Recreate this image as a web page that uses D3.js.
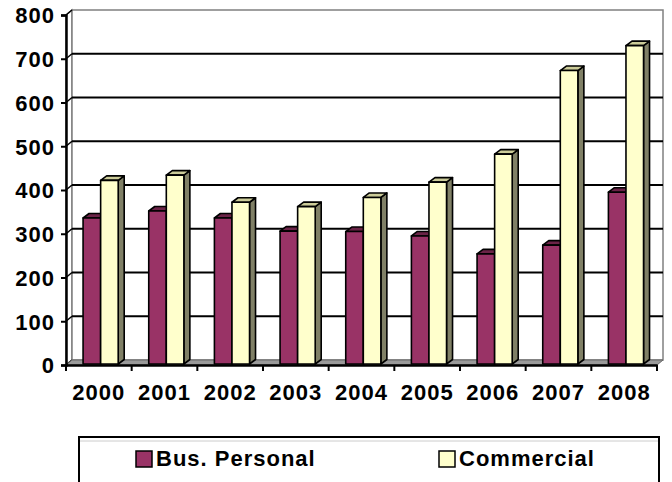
<!DOCTYPE html>
<meta charset="utf-8">
<style>
  body { margin: 0; background: #fff; }
  svg text {
    font-family: "Liberation Sans", Arial, sans-serif;
    font-weight: bold;
    font-size: 22px;
    letter-spacing: 1px;
    fill: #000;
  }
</style>
<body>
<svg width="672" height="482"></svg>
<script src="https://d3js.org/d3.v7.min.js"></script>
<script>
  // data
  var years = ["2000", "2001", "2002", "2003", "2004", "2005", "2006", "2007", "2008"];
  var busPersonal = [336, 352, 336, 306, 305, 295, 254, 274, 395];
  var commercial = [422, 434, 372, 362, 383, 418, 482, 673, 730];
  var seriesNames = ["Bus. Personal", "Commercial"];
  var yTicks = [0, 100, 200, 300, 400, 500, 600, 700, 800];

  var front = ["#993366", "#ffffcc"];
  var topCol = ["#6b2347", "#cccc99"];
  var sideCol = ["#4d1a33", "#808066"];

  var svg = d3.select("svg");

  var x = d3.scaleBand().domain(years).range([66, 657]);
  var y = d3.scaleLinear().domain([0, 800]).range([365, 15]);
  var inner = d3.scaleBand().domain([0, 1])
    .range([x.bandwidth() * 0.26, x.bandwidth() * 0.795]);

  // wall offset (depth of the 3d box)
  var wdx = 6, wdy = -5;
  // bar depth
  var bdx = 6, bdy = -4.5;

  var x0 = x.range()[0], x1 = x.range()[1];

  /* side wall */
  svg.append("path")
    .attr("d", d3.line()([[x0, y(0)], [x0, y(800)], [x0 + wdx, y(800) + wdy], [x0 + wdx, y(0) + wdy]]) + "Z")
    .attr("fill", "#fff").attr("stroke", "#808080").attr("stroke-width", 1.5);

  /* back wall */
  svg.append("rect")
    .attr("x", x0 + wdx).attr("y", y(800) + wdy)
    .attr("width", x1 - x0).attr("height", y(0) - y(800))
    .attr("fill", "#fff").attr("stroke", "#808080").attr("stroke-width", 1.5);

  /* gridlines */
  var grid = svg.append("g");
  yTicks.filter(function(d) { return d > 0 && d < 800; }).forEach(function(v) {
    grid.append("line")
      .attr("x1", x0 + wdx).attr("x2", x1 + wdx)
      .attr("y1", y(v) + wdy).attr("y2", y(v) + wdy)
      .attr("stroke", "#000").attr("stroke-width", 2);
  });
  yTicks.forEach(function(v) {
    grid.append("line")
      .attr("x1", x0).attr("x2", x0 + wdx)
      .attr("y1", y(v)).attr("y2", y(v) + wdy)
      .attr("stroke", "#000").attr("stroke-width", 1.5);
  });

  /* floor */
  svg.append("path")
    .attr("d", d3.line()([[x0, y(0)], [x1, y(0)], [x1 + wdx, y(0) + wdy], [x0 + wdx, y(0) + wdy]]) + "Z")
    .attr("fill", "#9a9a9a").attr("stroke", "#666").attr("stroke-width", 1);

  /* bars */
  var bars = svg.append("g");
  years.forEach(function(yr, i) {
    [busPersonal[i], commercial[i]].forEach(function(v, s) {
      var bx = x(yr) + inner(s), bw = inner.bandwidth();
      var top = y(v), bot = y(0) - 1;
      var g = bars.append("g")
        .attr("stroke", "#000").attr("stroke-width", 1.6).attr("stroke-linejoin", "round");
      g.append("path")
        .attr("d", d3.line()([[bx + bw, top], [bx + bw + bdx, top + bdy], [bx + bw + bdx, bot + bdy], [bx + bw, bot]]) + "Z")
        .attr("fill", sideCol[s]);
      g.append("path")
        .attr("d", d3.line()([[bx, top], [bx + bdx, top + bdy], [bx + bw + bdx, top + bdy], [bx + bw, top]]) + "Z")
        .attr("fill", topCol[s]);
      g.append("rect")
        .attr("x", bx).attr("y", top)
        .attr("width", bw).attr("height", bot - top)
        .attr("fill", front[s]);
    });
  });

  /* y axis */
  var yAxis = svg.append("g")
    .attr("transform", "translate(" + x0 + ",0)")
    .call(d3.axisLeft(y).tickValues(yTicks).tickSize(5).tickPadding(6));
  yAxis.select(".domain").attr("stroke", "#000").attr("stroke-width", 2.5);
  yAxis.selectAll(".tick line").attr("stroke", "#000").attr("stroke-width", 2);
  yAxis.selectAll("text").attr("font-size", null).attr("font-family", null)
    .attr("dy", "0.36em");

  /* x axis */
  var xAxis = svg.append("g")
    .attr("transform", "translate(0," + y(0) + ")")
    .call(d3.axisBottom(x).tickSize(0).tickPadding(35));
  xAxis.select(".domain").attr("stroke", "#000").attr("stroke-width", 2.5);
  xAxis.selectAll("text").attr("font-size", null).attr("font-family", null).attr("dy", "0");
  // category boundary ticks
  years.concat(["end"]).forEach(function(yr, i) {
    var tx = i < years.length ? x(yr) : x1;
    xAxis.append("line")
      .attr("x1", tx).attr("x2", tx).attr("y1", 0).attr("y2", 6)
      .attr("stroke", "#000").attr("stroke-width", 2);
  });

  /* legend */
  var legend = svg.append("g");
  legend.append("rect")
    .attr("x", 79).attr("y", 437).attr("width", 580).attr("height", 70)
    .attr("fill", "#fff").attr("stroke", "#000").attr("stroke-width", 2);
  legend.append("line")
    .attr("x1", 80).attr("x2", 658).attr("y1", 441).attr("y2", 441)
    .attr("stroke", "#ccc").attr("stroke-width", 1);
  var legX = [136, 439];
  seriesNames.forEach(function(name, s) {
    legend.append("rect")
      .attr("x", legX[s]).attr("y", 451).attr("width", 16).attr("height", 16)
      .attr("fill", front[s]).attr("stroke", "#000").attr("stroke-width", 1.5);
    legend.append("text")
      .attr("x", legX[s] + 20).attr("y", 466)
      .text(name);
  });
</script>
</body>
